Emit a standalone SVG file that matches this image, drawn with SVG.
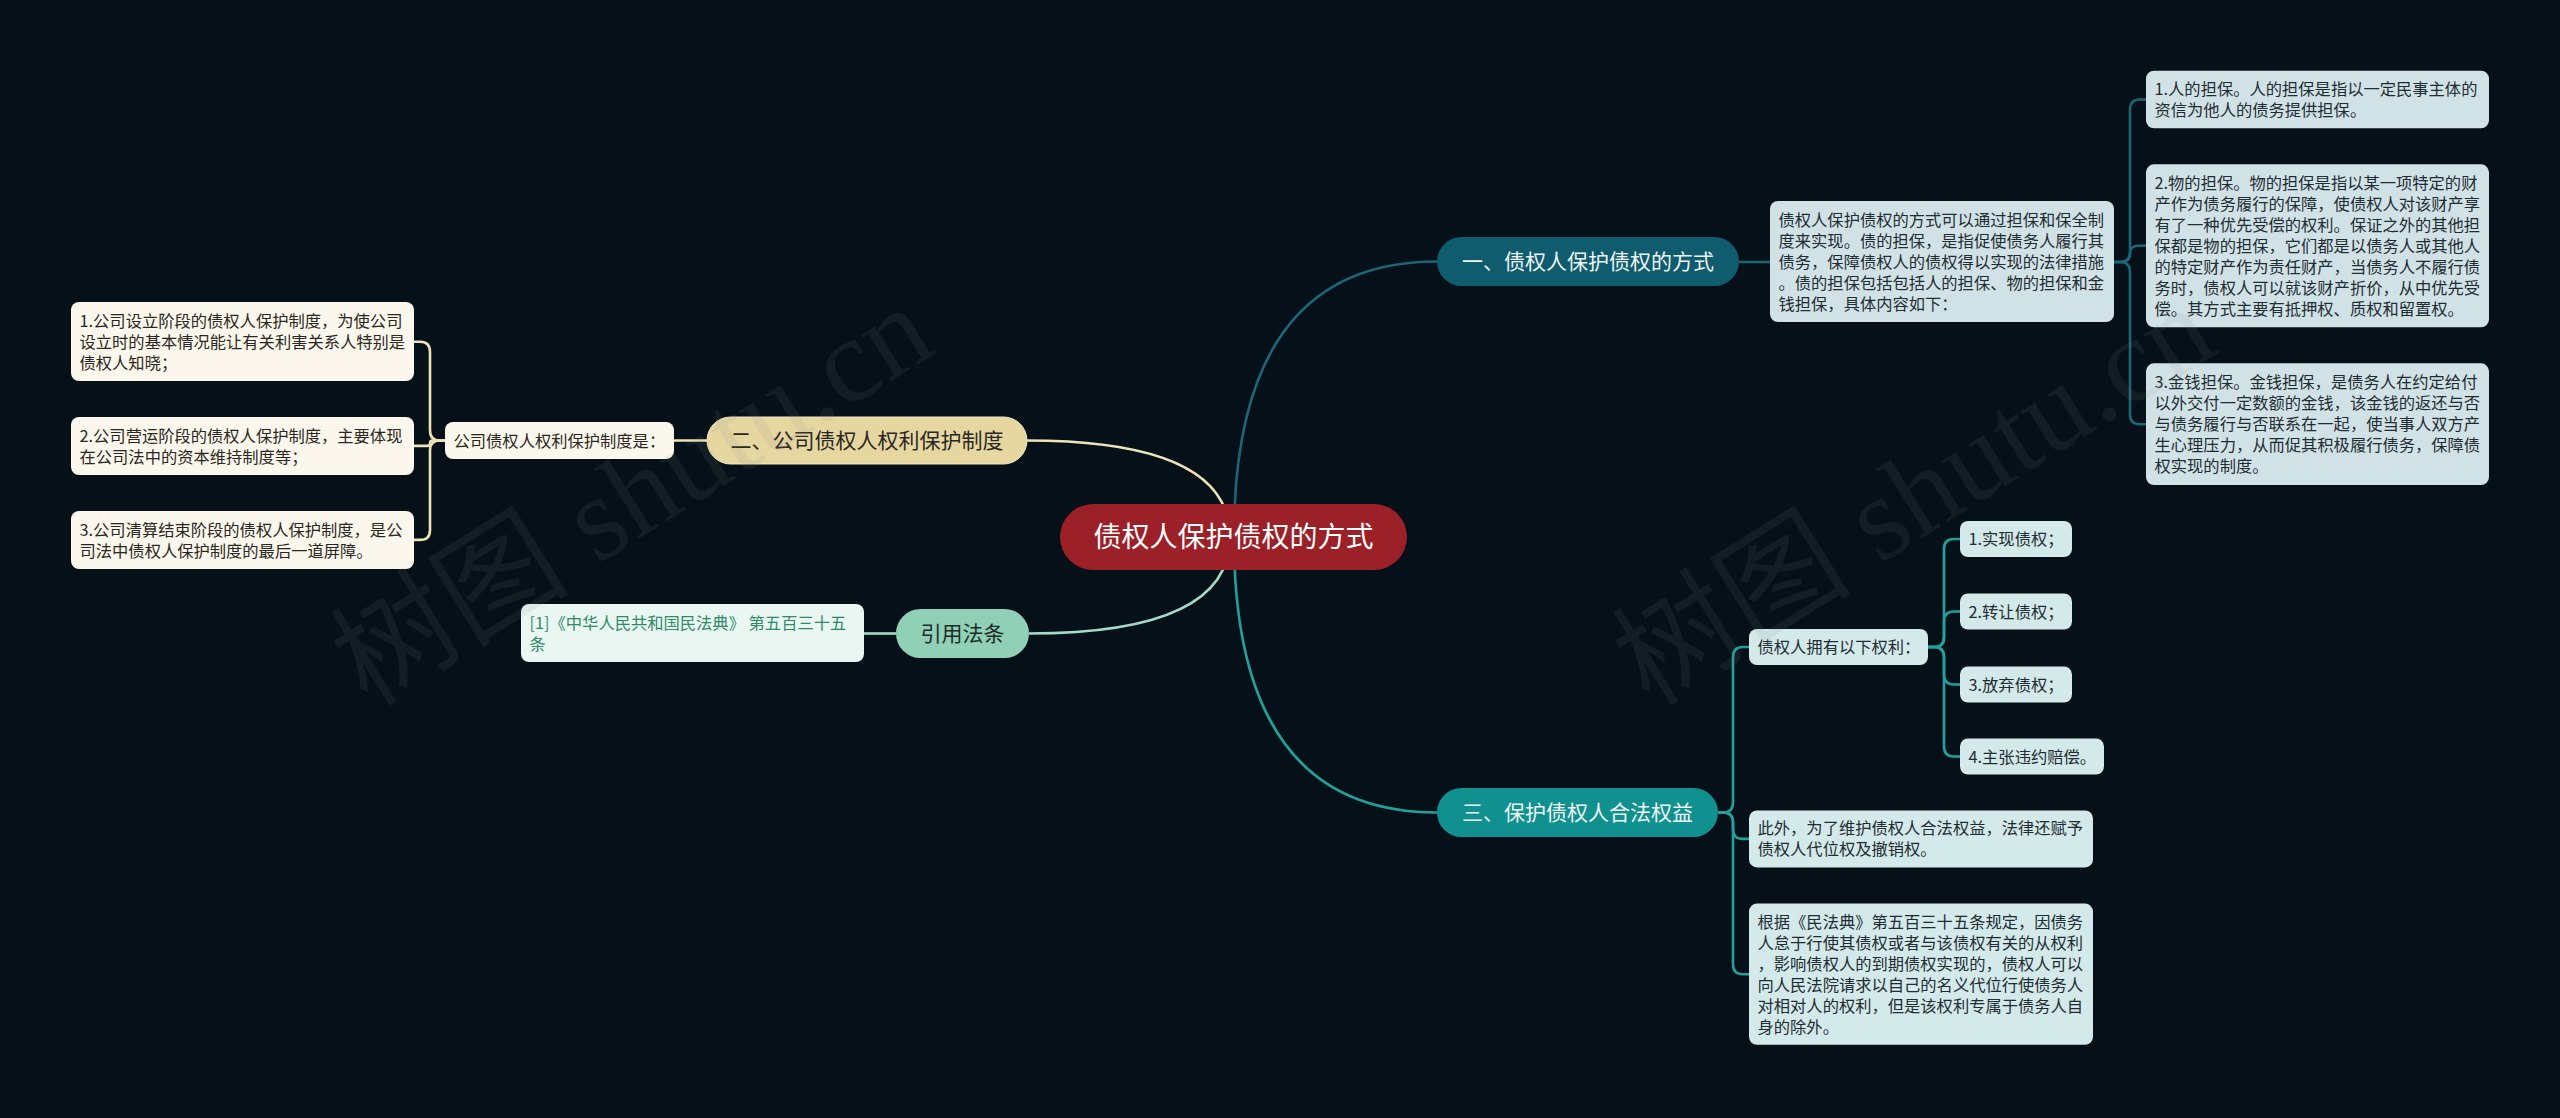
<svg xmlns="http://www.w3.org/2000/svg" width="2560" height="1118" viewBox="0 0 2560 1118">
<style>
.t{font-family:"Noto Sans CJK SC","Microsoft YaHei",sans-serif;font-size:16.3px;fill:#1f2c32}
.tl{font-family:"Noto Sans CJK SC","Microsoft YaHei",sans-serif;font-size:16.3px;fill:#2a2722}
.tc{font-family:"Noto Sans CJK SC","Microsoft YaHei",sans-serif;font-size:16.3px;fill:#2f8a66}
.main{font-family:"Noto Sans CJK SC","Microsoft YaHei",sans-serif;font-size:21px;text-anchor:middle}
.ctr{font-family:"Noto Sans CJK SC","Microsoft YaHei",sans-serif;font-size:28px;text-anchor:middle;fill:#ffffff}
.bx1{fill:#d1e2e7}
.bx3{fill:#d3e9ea}
.bx2{fill:#fbf7ec}
.bx4{fill:#eaf6f2}
.c1{fill:none;stroke:#1b6577;stroke-width:2.6}
.c3{fill:none;stroke:#22a09c;stroke-width:2.6}
.c2{fill:none;stroke:#ece3b6;stroke-width:2.6}
.c4{fill:none;stroke:#a2dcc7;stroke-width:2.6}
.wm{font-family:"Liberation Serif","Noto Sans CJK SC",serif;font-size:120px;fill:#8a8a8a;fill-opacity:0.11}
</style>
<rect x="0" y="0" width="2560" height="1118" fill="#051018"/>
<g id="connectors">
<path class="c1" d="M1234 537 Q1234 261.5 1437 261.5"/>
<path class="c3" d="M1234 537 Q1234 812.5 1437 812.5"/>
<path class="c2" d="M1230 537 Q1230 440.5 1027 440.5"/>
<path class="c4" d="M1230 537 Q1230 633.5 1029 633.5"/>
<path class="c1" d="M1739 262 H1770"/>
<path class="c1" d="M2114 262 H2120 Q2130 262 2130 252 V109.5 Q2130 99.5 2140 99.5 H2146"/>
<path class="c1" d="M2114 262 H2120 Q2130 262 2130 254 V253.8 Q2130 245.8 2138 245.8 H2146"/>
<path class="c1" d="M2114 262 H2120 Q2130 262 2130 272 V414.2 Q2130 424.2 2140 424.2 H2146"/>
<path class="c3" d="M1718 812.5 H1723 Q1733 812.5 1733 802.5 V657 Q1733 647 1743 647 H1749"/>
<path class="c3" d="M1718 812.5 H1723 Q1733 812.5 1733 822.5 V828.9 Q1733 838.9 1743 838.9 H1749"/>
<path class="c3" d="M1718 812.5 H1723 Q1733 812.5 1733 822.5 V964.2 Q1733 974.2 1743 974.2 H1749"/>
<path class="c3" d="M1928 647 H1934 Q1944 647 1944 637 V549 Q1944 539 1954 539 H1960"/>
<path class="c3" d="M1928 647 H1934 Q1944 647 1944 637 V621.5 Q1944 611.5 1954 611.5 H1960"/>
<path class="c3" d="M1928 647 H1934 Q1944 647 1944 657 V674.5 Q1944 684.5 1954 684.5 H1960"/>
<path class="c3" d="M1928 647 H1934 Q1944 647 1944 657 V746.5 Q1944 756.5 1954 756.5 H1960"/>
<path class="c2" d="M707 440.5 H674"/>
<path class="c2" d="M445 440.5 H440 Q430 440.5 430 430.5 V351.7 Q430 341.7 420 341.7 H414"/>
<path class="c2" d="M445 440.5 H432.3 Q430 440.5 430 443.2 Q430 445.9 427.3 445.9 H414"/>
<path class="c2" d="M445 440.5 H440 Q430 440.5 430 450.5 V529.9 Q430 539.9 420 539.9 H414"/>
<path class="c4" d="M896 633.5 H864"/>
</g>
<g id="center">
<rect x="1060" y="504" width="347" height="66" rx="33" fill="#9c2027"/>
<text class="ctr" x="1233.5" y="547">债权人保护债权的方式</text>
</g>
<g id="n1">
<rect x="1437" y="237" width="302" height="49" rx="24.5" fill="#0e5c6e"/>
<text class="main" x="1588" y="269" fill="#eef4f5">一、债权人保护债权的方式</text>
</g>
<g id="n3">
<rect x="1437" y="788" width="281" height="49" rx="24.5" fill="#10918f"/>
<text class="main" x="1577.5" y="820" fill="#eef7f6">三、保护债权人合法权益</text>
</g>
<g id="n2">
<rect x="707" y="417" width="320" height="47" rx="23.5" fill="#e6d6a0" stroke="#f0e6c0" stroke-width="1"/>
<text class="main" x="867" y="448" fill="#2a2824">二、公司债权人权利保护制度</text>
</g>
<g id="n4">
<rect x="896" y="609" width="133" height="49" rx="24.5" fill="#8fd0b7"/>
<text class="main" x="962.5" y="641" fill="#1d2a26">引用法条</text>
</g>
<g id="b0">
<rect class="bx1" x="1770" y="201" width="344" height="121" rx="8"/>
<text class="t" x="1778.5" y="225.5">债权人保护债权的方式可以通过担保和保全制</text>
<text class="t" x="1778.5" y="246.5">度来实现。债的担保，是指促使债务人履行其</text>
<text class="t" x="1778.5" y="267.5">债务，保障债权人的债权得以实现的法律措施</text>
<text class="t" x="1778.5" y="288.5">。债的担保包括包括人的担保、物的担保和金</text>
<text class="t" x="1778.5" y="309.5">钱担保，具体内容如下：</text>
</g>
<g id="b1">
<rect class="bx1" x="2146" y="70.7" width="343" height="57.6" rx="8"/>
<text class="t" x="2154.5" y="95">1.人的担保。人的担保是指以一定民事主体的</text>
<text class="t" x="2154.5" y="116">资信为他人的债务提供担保。</text>
</g>
<g id="b2">
<rect class="bx1" x="2146" y="164.3" width="343" height="163" rx="8"/>
<text class="t" x="2154.5" y="188.8">2.物的担保。物的担保是指以某一项特定的财</text>
<text class="t" x="2154.5" y="209.8">产作为债务履行的保障，使债权人对该财产享</text>
<text class="t" x="2154.5" y="230.8">有了一种优先受偿的权利。保证之外的其他担</text>
<text class="t" x="2154.5" y="251.8">保都是物的担保，它们都是以债务人或其他人</text>
<text class="t" x="2154.5" y="272.8">的特定财产作为责任财产，当债务人不履行债</text>
<text class="t" x="2154.5" y="293.8">务时，债权人可以就该财产折价，从中优先受</text>
<text class="t" x="2154.5" y="314.8">偿。其方式主要有抵押权、质权和留置权。</text>
</g>
<g id="b3">
<rect class="bx1" x="2146" y="363.3" width="343" height="121.7" rx="8"/>
<text class="t" x="2154.5" y="388.2">3.金钱担保。金钱担保，是债务人在约定给付</text>
<text class="t" x="2154.5" y="409.2">以外交付一定数额的金钱，该金钱的返还与否</text>
<text class="t" x="2154.5" y="430.2">与债务履行与否联系在一起，使当事人双方产</text>
<text class="t" x="2154.5" y="451.2">生心理压力，从而促其积极履行债务，保障债</text>
<text class="t" x="2154.5" y="472.2">权实现的制度。</text>
</g>
<g id="c0">
<rect class="bx3" x="1749" y="629" width="179" height="36" rx="8"/>
<text class="t" x="1757.5" y="653">债权人拥有以下权利：</text>
</g>
<g id="c1">
<rect class="bx3" x="1960" y="521" width="112" height="36" rx="8"/>
<text class="t" x="1968.5" y="545">1.实现债权；</text>
</g>
<g id="c2">
<rect class="bx3" x="1960" y="593.5" width="112" height="36" rx="8"/>
<text class="t" x="1968.5" y="617.5">2.转让债权；</text>
</g>
<g id="c3">
<rect class="bx3" x="1960" y="666.5" width="112" height="36" rx="8"/>
<text class="t" x="1968.5" y="690.5">3.放弃债权；</text>
</g>
<g id="c4">
<rect class="bx3" x="1960" y="738.5" width="144" height="36" rx="8"/>
<text class="t" x="1968.5" y="762.5">4.主张违约赔偿。</text>
</g>
<g id="c5">
<rect class="bx3" x="1749" y="810.4" width="344" height="57" rx="8"/>
<text class="t" x="1757.5" y="834.4">此外，为了维护债权人合法权益，法律还赋予</text>
<text class="t" x="1757.5" y="855.4">债权人代位权及撤销权。</text>
</g>
<g id="c6">
<rect class="bx3" x="1749" y="903.6" width="344" height="141.2" rx="8"/>
<text class="t" x="1757.5" y="927.7">根据《民法典》第五百三十五条规定，因债务</text>
<text class="t" x="1757.5" y="948.7">人怠于行使其债权或者与该债权有关的从权利</text>
<text class="t" x="1757.5" y="969.7">，影响债权人的到期债权实现的，债权人可以</text>
<text class="t" x="1757.5" y="990.7">向人民法院请求以自己的名义代位行使债务人</text>
<text class="t" x="1757.5" y="1011.7">对相对人的权利，但是该权利专属于债务人自</text>
<text class="t" x="1757.5" y="1032.7">身的除外。</text>
</g>
<g id="m">
<rect class="bx2" x="445" y="422" width="229" height="37" rx="8"/>
<text class="tl" x="453.5" y="446.5">公司债权人权利保护制度是：</text>
</g>
<g id="l1">
<rect class="bx2" x="71" y="302" width="343" height="79" rx="8"/>
<text class="tl" x="79.5" y="326.5">1.公司设立阶段的债权人保护制度，为使公司</text>
<text class="tl" x="79.5" y="347.5">设立时的基本情况能让有关利害关系人特别是</text>
<text class="tl" x="79.5" y="368.5">债权人知晓；</text>
</g>
<g id="l2">
<rect class="bx2" x="71" y="417" width="343" height="58" rx="8"/>
<text class="tl" x="79.5" y="441.5">2.公司营运阶段的债权人保护制度，主要体现</text>
<text class="tl" x="79.5" y="462.5">在公司法中的资本维持制度等；</text>
</g>
<g id="l3">
<rect class="bx2" x="71" y="511" width="343" height="58" rx="8"/>
<text class="tl" x="79.5" y="535.5">3.公司清算结束阶段的债权人保护制度，是公</text>
<text class="tl" x="79.5" y="556.5">司法中债权人保护制度的最后一道屏障。</text>
</g>
<g id="cite">
<rect class="bx4" x="521" y="604" width="343" height="58" rx="8"/>
<text class="tc" x="529.5" y="628.5">[1]《中华人民共和国民法典》 第五百三十五</text>
<text class="tc" x="529.5" y="649.5">条</text>
</g>
<text class="wm" transform="translate(368 708) rotate(-32)">树图 shutu.cn</text>
<text class="wm" transform="translate(1650 708) rotate(-32)">树图 shutu.cn</text>
</svg>
